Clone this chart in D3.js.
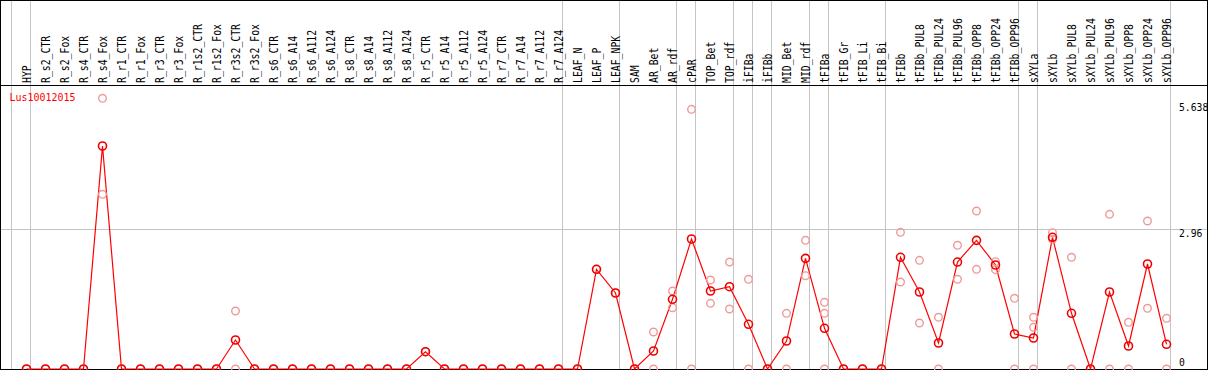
<!DOCTYPE html>
<html><head><meta charset="utf-8">
<script src="https://cdn.jsdelivr.net/npm/d3@7"></script>
<style>html,body{margin:0;padding:0;background:#fff;overflow:hidden}svg{display:block}</style>
</head><body>
<script>
const categories = ["HYP","R_s2_CTR","R_s2_Fox","R_s4_CTR","R_s4_Fox","R_r1_CTR","R_r1_Fox","R_r3_CTR","R_r3_Fox","R_r1s2_CTR","R_r1s2_Fox","R_r3s2_CTR","R_r3s2_Fox","R_s6_CTR","R_s6_A14","R_s6_A112","R_s6_A124","R_s8_CTR","R_s8_A14","R_s8_A112","R_s8_A124","R_r5_CTR","R_r5_A14","R_r5_A112","R_r5_A124","R_r7_CTR","R_r7_A14","R_r7_A112","R_r7_A124","LEAF_N","LEAF_P","LEAF_NPK","SAM","AR_Bet","AR_rdf","cPAR","TOP_Bet","TOP_rdf","iFIBa","iFIBb","MID_Bet","MID_rdf","tFIBa","tFIB_Gr","tFIB_Li","tFIB_Bi","tFIBb","tFIBb_PUL8","tFIBb_PUL24","tFIBb_PUL96","tFIBb_OPP8","tFIBb_OPP24","tFIBb_OPP96","sXYLa","sXYLb","sXYLb_PUL8","sXYLb_PUL24","sXYLb_PUL96","sXYLb_OPP8","sXYLb_OPP24","sXYLb_OPP96"];
const groupStarts = ["HYP","R_s2_CTR","LEAF_N","SAM","cPAR","TOP_Bet","iFIBa","iFIBb","MID_Bet","tFIBa","tFIB_Gr","tFIBb","sXYLa","sXYLb"];
const seriesName = "Lus10012015";
const meanValues = [0,0,0,0,4.709, 0,0,0,0,0,0, 0.612, 0,0,0,0,0,0,0,0,0, 0.365, 0,0,0,0,0,0,0,0,
  2.105,1.605,0,0.380,1.472,2.745,1.647,1.738,0.944,0,0.591,2.337,0.859,0,0,0,2.359,1.626,0.549,2.259,2.717,2.196,0.739,0.655,2.781,1.176,0,1.626,0.486,2.217,0.522];
const repA = [0,0,0,0,5.716, 0,0,0,0,0,0, 1.225, 0,0,0,0,0,0,0,0,0, 0.365, 0,0,0,0,0,0,0,0,
  2.105,1.605,0,0.781,1.647,5.483,1.879,2.259,1.894,0,1.176,2.717,1.408,0,0,0,2.886,2.295,1.092,2.612,3.336,2.266,1.493,1.092,2.878,2.359,0,3.266,0.986,3.125,1.071];
const repB = [null,null,null,null,3.689, null,null,null,null,null,null, 0, null,null,null,null,null,null,null,null,null, null, null,null,null,null,null,null,null,null,
  null,null,null,0,1.294,0,1.387,1.267,0,null,0,1.970,1.176,null,null,null,1.837,0.971,0,1.894,2.105,2.097,0,0.880,2.739,0,null,0,0,1.282,0];
const repC = categories.map((c,i)=> (c==="tFIBa"||c==="sXYLa") ? 0 : null);
const tickValues = [0, 2.96, 5.638];
const tickLabels = ["0","2.96","5.638"];

const W = 1209, H = 370;
const svg = d3.select("body").append("svg").attr("width",W).attr("height",H);
const x = d3.scaleBand().domain(categories).range([12, 12 + 19*categories.length]).padding(0);
const px = c => x(c) + 14.5;
const y = d3.scaleLinear().domain([0, 5.638]).range([369, 102]);
const mono = "'DejaVu Sans Mono', 'Liberation Mono', monospace";

// gray vertical group lines
const vlines = groupStarts.map(c => x(c)).concat([x.range()[1]]);
svg.append("g").selectAll("line").data(vlines).join("line")
  .attr("x1",d=>d-0.5).attr("x2",d=>d-0.5).attr("y1",0).attr("y2",H)
  .attr("stroke","#c4c4c4").attr("stroke-width",1).attr("shape-rendering","crispEdges");

// horizontal grid at middle tick
svg.append("g").selectAll("line").data(tickValues.filter(v=>v>0 && v<5)).join("line")
  .attr("x1",0).attr("x2",1207).attr("y1",d=>Math.round(y(d))+0.5).attr("y2",d=>Math.round(y(d))+0.5)
  .attr("stroke","#c4c4c4").attr("stroke-width",1).attr("shape-rendering","crispEdges");

// frame
const frame = svg.append("g").attr("stroke","#000").attr("stroke-width",1).attr("shape-rendering","crispEdges");
frame.append("line").attr("x1",0).attr("x2",1208).attr("y1",0.5).attr("y2",0.5);
frame.append("line").attr("x1",0.5).attr("x2",0.5).attr("y1",0).attr("y2",H);
frame.append("line").attr("x1",1207.5).attr("x2",1207.5).attr("y1",0).attr("y2",H);
frame.append("line").attr("x1",0).attr("x2",1208).attr("y1",85.5).attr("y2",85.5);
frame.append("line").attr("x1",0).attr("x2",1208).attr("y1",369.5).attr("y2",369.5);

// header labels
svg.append("g").selectAll("text").data(categories).join("text")
  .attr("transform",c=>`translate(${px(c)+4},83) rotate(-90)`)
  .attr("font-family",mono).attr("font-size",12).attr("fill","#000")
  .attr("textLength",c=>5.9*c.length).attr("lengthAdjust","spacingAndGlyphs")
  .text(c=>c);

// legend
svg.append("text").attr("x",9.5).attr("y",100.5).attr("font-family",mono).attr("font-size",11)
  .attr("fill","#ff0000").attr("textLength",6*seriesName.length).attr("lengthAdjust","spacingAndGlyphs").text(seriesName);

// y labels
svg.append("g").selectAll("text").data(tickValues).join("text")
  .attr("x",1179).attr("y",(d)=> d===0 ? 365.5 : y(d)+8.5)
  .attr("font-family",mono).attr("font-size",10).attr("fill","#000")
  .attr("textLength",(d,i)=>5.85*tickLabels[i].length).attr("lengthAdjust","spacingAndGlyphs")
  .text((d,i)=>tickLabels[i]);

// line
const line = d3.line().x((d,i)=>px(categories[i])).y(d=>y(d));
svg.append("path").datum(meanValues).attr("d",line).attr("fill","none").attr("stroke","#ff0000").attr("stroke-width",1.2);

// replicate points
const reps = [];
[repA,repB,repC].forEach(arr => arr.forEach((v,i)=>{ if(v!==null) reps.push({c:categories[i], v}); }));
svg.append("g").selectAll("circle").data(reps).join("circle")
  .attr("cx",d=>px(d.c)).attr("cy",d=>y(d.v)).attr("r",3.8)
  .attr("fill","none").attr("stroke","#ef9a9a").attr("stroke-width",1.4);

// mean points
svg.append("g").selectAll("circle").data(meanValues).join("circle")
  .attr("cx",(d,i)=>px(categories[i])).attr("cy",d=>y(d)).attr("r",4)
  .attr("fill","none").attr("stroke","#ee0000").attr("stroke-width",1.6);
</script>
</body></html>
